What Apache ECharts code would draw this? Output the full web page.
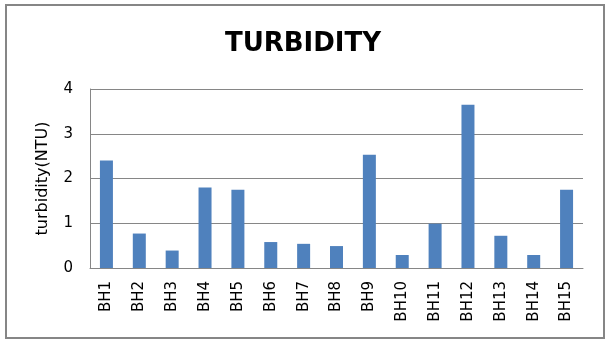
<!DOCTYPE html>
<html>
<head>
<meta charset="utf-8">
<script src="https://cdn.jsdelivr.net/npm/echarts@6/dist/echarts.min.js"></script>
<style>
html,body{margin:0;padding:0;background:#fff;}
#c{width:606px;height:342px;}
</style>
</head>
<body>
<div id="c"></div>
<script>
var categories = ['BH1','BH2','BH3','BH4','BH5','BH6','BH7','BH8','BH9','BH10','BH11','BH12','BH13','BH14','BH15'];
var turbidity = [2.40, 0.77, 0.39, 1.80, 1.75, 0.58, 0.54, 0.49, 2.53, 0.29, 0.99, 3.65, 0.72, 0.29, 1.75];
var yTicks = [0, 1, 2, 3, 4];

var chart = echarts.init(document.getElementById('c'), null, {renderer:'canvas'});
chart.setOption({
  animation: false,
  backgroundColor: '#fff',
  graphic: [{
    type: 'rect',
    shape: {x: 6, y: 5, width: 598, height: 333},
    style: {fill: 'none', stroke: '#868686', lineWidth: 2},
    silent: true, z: -1
  }],
  title: {
    text: 'TURBIDITY',
    left: 'center',
    top: 26,
    textStyle: {fontFamily: 'DejaVu Sans', fontWeight: 'bold', fontSize: 26, color: '#000'}
  },
  grid: {left: 90, right: 23, top: 89, bottom: 74, containLabel: false},
  xAxis: {
    type: 'category',
    data: categories,
    axisLine: {show: true, lineStyle: {color: '#868686', width: 1}},
    axisTick: {show: false},
    axisLabel: {rotate: 90, margin: 13, fontFamily: 'DejaVu Sans', fontSize: 15, color: '#000', interval: 0}
  },
  yAxis: {
    type: 'value',
    min: yTicks[0],
    max: yTicks[yTicks.length - 1],
    interval: 1,
    name: 'turbidity(NTU)',
    nameLocation: 'middle',
    nameGap: 39,
    nameTextStyle: {fontFamily: 'DejaVu Sans', fontSize: 16, color: '#000'},
    axisLine: {show: true, lineStyle: {color: '#868686', width: 1}},
    axisTick: {show: false},
    splitLine: {show: true, lineStyle: {color: '#868686', width: 1}},
    axisLabel: {margin: 17, fontFamily: 'DejaVu Sans', fontSize: 15, color: '#000'}
  },
  series: [{
    type: 'bar',
    data: turbidity,
    barWidth: 13,
    itemStyle: {color: '#4F81BD'}
  }]
});
</script>
</body>
</html>
